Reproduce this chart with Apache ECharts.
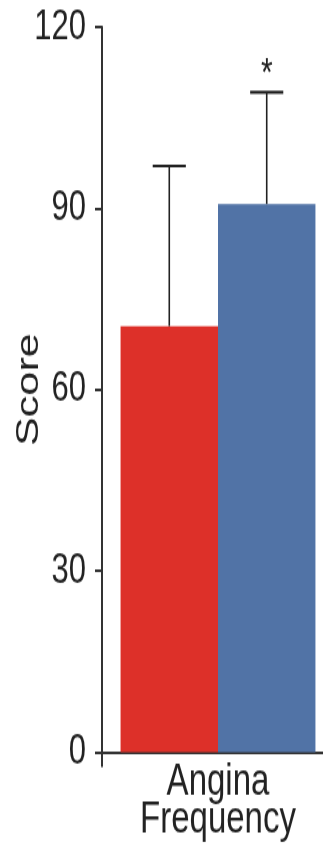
<!DOCTYPE html>
<html>
<head>
<meta charset="utf-8">
<script src="https://cdn.jsdelivr.net/npm/echarts@6/dist/echarts.min.js"></script>
<style>
  html, body { margin: 0; padding: 0; background: #ffffff; width: 323px; height: 850px; overflow: hidden; }
  /* tall, narrow figure: the plot is laid out and then stretched vertically */
  #chart { width: 323px; height: 630px; transform: scaleY(1.3492); transform-origin: 0 0; }
</style>
</head>
<body>
<div id="chart"></div>
<script>
// Category and group data
const categories = ['Angina\nFrequency'];
const groupNames = ['Group 1', 'Group 2'];
const groupColors = ['#dd3029', '#5173a6'];
const meanScores = [70.5, 90.7];
const errorValues = [26.5, 18.5];
const significance = ['', '*'];

// Y axis ticks
const yMin = 0;
const yMax = 120;
const yStep = 30;

const BAR_CATEGORY_GAP = 0.16;
const INK = '#222222';
const FONT = '"Liberation Sans", Arial, sans-serif';

const chart = echarts.init(document.getElementById('chart'));

const barSeries = groupNames.map((name, i) => ({
  name: name,
  type: 'bar',
  data: [meanScores[i]],
  barGap: '0%',
  barCategoryGap: (BAR_CATEGORY_GAP * 100) + '%',
  itemStyle: { color: groupColors[i] },
  z: 2
}));

// Error bars (upper whisker with cap) and significance marks
const errorSeries = {
  type: 'custom',
  data: meanScores.map((m, i) => [0, m, errorValues[i], i]),
  encode: { x: 0, y: 1 },
  z: 5,
  silent: true,
  renderItem: function (params, api) {
    const gi = api.value(3);
    const mean = api.value(1);
    const err = api.value(2);
    const band = api.size([1, 0])[0];
    const barW = band * (1 - BAR_CATEGORY_GAP) / groupNames.length;
    const base = api.coord([api.value(0), mean]);
    const top = api.coord([api.value(0), mean + err]);
    const cx = base[0] + (gi - (groupNames.length - 1) / 2) * barW;
    const capHalf = barW * 0.17;
    const children = [
      { type: 'line', shape: { x1: cx, y1: base[1], x2: cx, y2: top[1] },
        style: { stroke: INK, lineWidth: 1.6 } },
      { type: 'line', shape: { x1: cx - capHalf, y1: top[1], x2: cx + capHalf, y2: top[1] },
        style: { stroke: INK, lineWidth: 2.2 } }
    ];
    if (significance[gi]) {
      children.push({
        type: 'text',
        style: {
          text: significance[gi], x: cx, y: top[1] - 14,
          align: 'center', verticalAlign: 'middle',
          font: '30px ' + FONT, fill: INK
        }
      });
    }
    return { type: 'group', children: children };
  }
};

chart.setOption({
  backgroundColor: '#ffffff',
  animation: false,
  grid: {
    left: 102, right: -11, top: 20, bottom: 72.6,
    containLabel: false,
    outerBoundsMode: 'none'
  },
  xAxis: {
    type: 'category',
    data: categories,
    boundaryGap: true,
    axisLine: { show: true, lineStyle: { color: '#333333', width: 2 } },
    axisTick: { show: true, length: 11, lineStyle: { color: '#333333', width: 2 } },
    axisLabel: {
      margin: 9,
      color: INK,
      fontFamily: FONT,
      fontSize: 33,
      lineHeight: 27.5
    },
    splitLine: { show: false }
  },
  yAxis: {
    type: 'value',
    min: yMin,
    max: yMax,
    interval: yStep,
    name: 'Score',
    nameLocation: 'middle',
    nameGap: 57,
    nameRotate: 90,
    nameMoveOverlap: false,
    nameTextStyle: {
      color: INK,
      fontFamily: FONT,
      fontSize: 32
    },
    axisLine: { show: true, lineStyle: { color: '#333333', width: 2 } },
    axisTick: { show: true, length: 7, lineStyle: { color: '#333333', width: 2 } },
    axisLabel: {
      margin: 16,
      color: INK,
      fontFamily: FONT,
      fontSize: 31
    },
    splitLine: { show: false }
  },
  series: barSeries.concat([errorSeries])
});
</script>
</body>
</html>
